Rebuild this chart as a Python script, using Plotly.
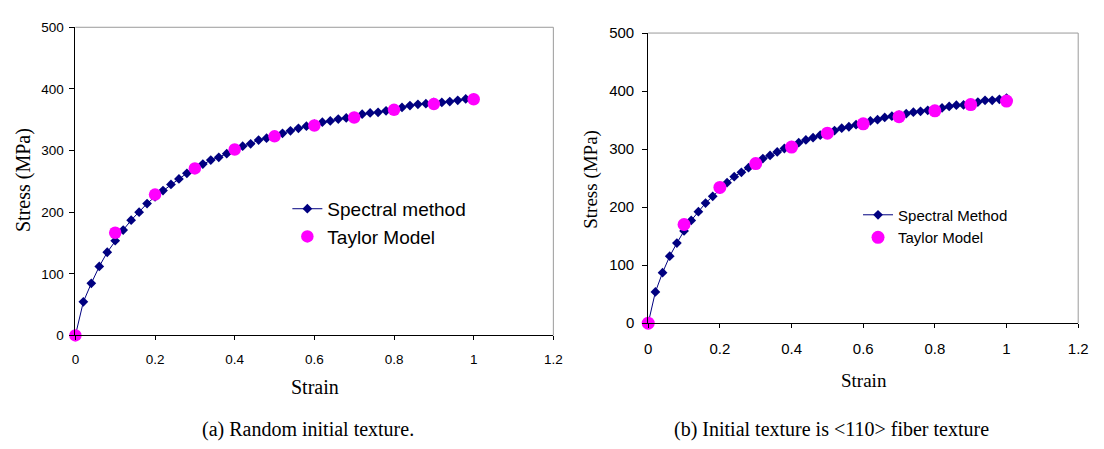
import plotly.graph_objects as go

W, H = 1104, 449

strain = [round(0.02 * i, 2) for i in range(51)]

# (a) Random initial texture
spectral_a = [0, 54.5, 84.6, 112, 135, 153.7, 171, 187, 200, 214, 225, 235, 245, 254, 263,
              270, 278, 284.5, 289, 295, 301, 307, 311, 317, 320, 323.5, 328, 332, 336, 339.6,
              342.7, 346, 348, 351, 353, 355, 359, 361, 362, 364.5, 366, 370, 373, 375, 376,
              378, 378, 379.5, 381.6, 383.7, 385]
taylor_strain = [0, 0.1, 0.2, 0.3, 0.4, 0.5, 0.6, 0.7, 0.8, 0.9, 1.0]
taylor_a = [0, 166.7, 228.5, 271, 301.7, 323, 340.7, 353.6, 366, 375.4, 383.2]

# (b) Initial texture is <110> fiber texture
spectral_b = [0, 53.8, 87, 115.4, 138, 159, 177, 192, 207, 218.6, 231, 242, 252.5, 260, 268,
              275, 283.6, 289, 295, 301, 305.8, 311, 315.8, 319.6, 324, 328, 332, 336, 338.5, 342,
              345, 348.5, 350.7, 354.6, 356.8, 358.5, 361, 363.5, 365, 366.8, 368, 371, 373.5,
              375.7, 376, 378, 381, 384, 384, 385.7, 388]
taylor_b = [0, 170, 234, 275, 303.5, 327.4, 343.5, 355.7, 366, 376.8, 382.7]

x_ticks = [0, 0.2, 0.4, 0.6, 0.8, 1, 1.2]
x_ticktext = ["0", "0.2", "0.4", "0.6", "0.8", "1", "1.2"]
y_ticks = [0, 100, 200, 300, 400, 500]

NAVY = "#000080"
PINK = "#FF00FF"
SANS = "Arial, Liberation Sans, sans-serif"
SERIF = "Times New Roman, Liberation Serif, serif"

def px_x(p):
    return p / W

def px_y(p):
    return 1 - p / H

fig = go.Figure()

fig.add_trace(go.Scatter(x=strain, y=spectral_a, mode="lines+markers", name="Spectral method",
                         line=dict(color=NAVY, width=1), cliponaxis=False,
                         marker=dict(symbol="diamond", size=7.5, color=NAVY),
                         xaxis="x", yaxis="y", legend="legend"))
fig.add_trace(go.Scatter(x=taylor_strain, y=taylor_a, mode="markers", name="Taylor Model",
                         marker=dict(symbol="circle", size=12.5, color=PINK), cliponaxis=False,
                         xaxis="x", yaxis="y", legend="legend"))
fig.add_trace(go.Scatter(x=strain, y=spectral_b, mode="lines+markers", name="Spectral Method",
                         line=dict(color=NAVY, width=1), cliponaxis=False,
                         marker=dict(symbol="diamond", size=7.5, color=NAVY),
                         xaxis="x2", yaxis="y2", legend="legend2"))
fig.add_trace(go.Scatter(x=taylor_strain, y=taylor_b, mode="markers", name="Taylor Model",
                         marker=dict(symbol="circle", size=13, color=PINK), cliponaxis=False,
                         xaxis="x2", yaxis="y2", legend="legend2"))

def xaxis(domain, anchor, size, standoff):
    return dict(domain=domain, anchor=anchor, range=[0, 1.2], tickvals=x_ticks, ticktext=x_ticktext,
                showline=True, linecolor="black", linewidth=1, ticks="outside", ticklen=4,
                tickcolor="black", showgrid=False, zeroline=False,
                tickfont=dict(family=SANS, size=size, color="black"), ticklabelstandoff=standoff)

def yaxis(domain, anchor, size, standoff):
    return dict(domain=domain, anchor=anchor, range=[0, 500], tickvals=y_ticks,
                showline=True, linecolor="black", linewidth=1, ticks="outside", ticklen=5,
                tickcolor="black", showgrid=False, zeroline=False,
                tickfont=dict(family=SANS, size=size, color="black"), ticklabelstandoff=standoff)

L = dict(x0=72.3, x1=556.4, y0=19, y1=339.3)
R = dict(x0=652.5, x1=1088, y0=25, y1=326.5)

fig.update_layout(
    width=W, height=H, margin=dict(l=0, r=0, t=0, b=0),
    paper_bgcolor="white", plot_bgcolor="white",
    xaxis=xaxis([px_x(L["x0"]), px_x(L["x1"])], "y", 13.5, 7),
    yaxis=yaxis([px_y(L["y1"]), px_y(L["y0"])], "x", 13.5, 3),
    xaxis2=xaxis([px_x(R["x0"]), px_x(R["x1"])], "y2", 15, 8),
    yaxis2=yaxis([px_y(R["y1"]), px_y(R["y0"])], "x2", 15, 5),
    legend=dict(x=px_x(287), y=px_y(188), xanchor="left", yanchor="top",
                font=dict(family=SANS, size=19, color="black"), bgcolor="rgba(0,0,0,0)"),
    legend2=dict(x=px_x(865), y=px_y(197), xanchor="left", yanchor="top",
                 font=dict(family=SANS, size=15, color="black"), bgcolor="rgba(0,0,0,0)"),
    showlegend=True,
)

# gray top/right frame
for xr, yr in (("x domain", "y domain"), ("x2 domain", "y2 domain")):
    fig.add_shape(type="line", xref=xr, yref=yr, x0=0, x1=1, y0=1, y1=1,
                  line=dict(color="#9a9a9a", width=1))
    fig.add_shape(type="line", xref=xr, yref=yr, x0=1, x1=1, y0=0, y1=1,
                  line=dict(color="#9a9a9a", width=1))

def ann(text, x, y, size, angle=0):
    fig.add_annotation(text=text, x=px_x(x), y=px_y(y), xref="paper", yref="paper",
                       showarrow=False, textangle=angle, xanchor="center", yanchor="middle",
                       font=dict(family=SERIF, size=size, color="black"))

ann("Stress (MPa)", 20, 178, 20, -90)
ann("Strain", 315, 393, 20)
ann("Stress (MPa)", 595, 177, 19, -90)
ann("Strain", 871, 386, 19)
ann("(a) Random initial texture.", 308, 437, 20)
ann("(b) Initial texture is &lt;110&gt; fiber texture", 838, 437, 20)

fig.write_html("out.html")
